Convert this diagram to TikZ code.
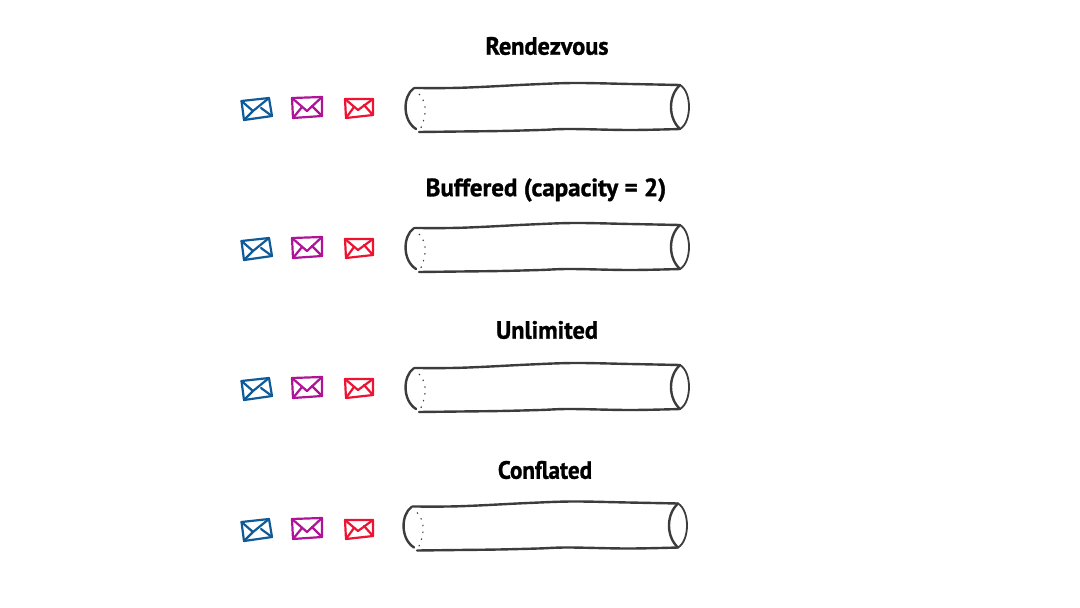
\documentclass[tikz,border=0pt]{standalone}
\usepackage{fontspec}
\setmainfont{PT Sans}
\newfontfamily\titlefont[FakeBold=1.2]{PT Sans Bold}
\definecolor{mailblue}{HTML}{0F5A98}
\definecolor{mailpurple}{HTML}{AE1398}
\definecolor{mailred}{HTML}{EC1432}
\definecolor{pipeink}{HTML}{3C3C3C}
\tikzset{
  mailline/.style={line width=2.2pt,line join=round,line cap=round},
  pipeline/.style={draw=pipeink,line width=2.4pt,line cap=round,line join=round},
  pipedots/.style={draw=pipeink,line width=1.1pt,dash pattern=on 1.4pt off 5.5pt},
  title/.style={font=\titlefont\fontsize{25}{28}\selectfont,text=black,inner sep=0pt,xscale=0.97,anchor=center},
  pics/mails/.style={code={
    % blue
    \draw[mailline,mailblue] (241.5,101) -- (269,98) -- (272,116) -- (244,120) -- cycle;
    \draw[mailline,mailblue] (241.5,101) -- (253,111) -- (269,98);
    \draw[mailline,mailblue] (244,120) -- (253,111) (272,116) -- (261,108);
    % purple
    \draw[mailline,mailpurple] (292,98) -- (322,97) -- (322,116) -- (293,118) -- cycle;
    \draw[mailline,mailpurple] (292,98) -- (307,111) -- (322,97);
    \draw[mailline,mailpurple] (293,118) -- (302,107) (322,116) -- (312,106);
    % red
    \draw[mailline,mailred] (345,99) -- (373,99) -- (373,115) -- (346,118) -- cycle;
    \draw[mailline,mailred] (345,99) -- (358,110) -- (373,99);
    \draw[mailline,mailred] (346,118) -- (354,107) (373,115) -- (364,105);
  }},
  pics/pipe/.style={code={
    \draw[pipeline] plot[smooth,tension=0.6] coordinates {(414,88) (450,88) (480,87) (530,84.5) (575,83) (630,84) (680,85)};
    \draw[pipeline] plot[smooth,tension=0.6] coordinates {(419,132) (460,131.5) (500,131) (540,130) (570,129) (630,130) (680,129)};
    \draw[pipeline] (413.5,88.5) .. controls (403,96) and (402,120) .. (416,129);
    \draw[pipeline] (680,85) .. controls (668,96) and (668,118) .. (680,129);
    \draw[pipeline,line width=1.8pt] (680,85) .. controls (692,92) and (692,122) .. (680,129);
    \draw[pipedots] (419,94) .. controls (426,102) and (428,112) .. (420,130);
  }}
}
\begin{document}
\begin{tikzpicture}[x=1pt,y=-1pt]
\useasboundingbox (0,0) rectangle (1080,608);
\node[title] (t1) at (547,46) {Rendezvous};
\node[title,xscale=1.03] (t2) at (546,190) {Buffered (capacity = 2)};
\node[title] (t3) at (547,330) {Unlimited};
\node[title,xscale=0.95] (t4) at (545,470) {Conflated};
\pic at (0,0) {mails};
\pic at (0,0) {pipe};
\pic at (0,140) {mails};
\pic at (0,140) {pipe};
\pic at (0,280) {mails};
\pic at (0,280) {pipe};
\pic at (0,421) {mails};
\pic at (-2,418.5) {pipe};
\end{tikzpicture}
\end{document}
